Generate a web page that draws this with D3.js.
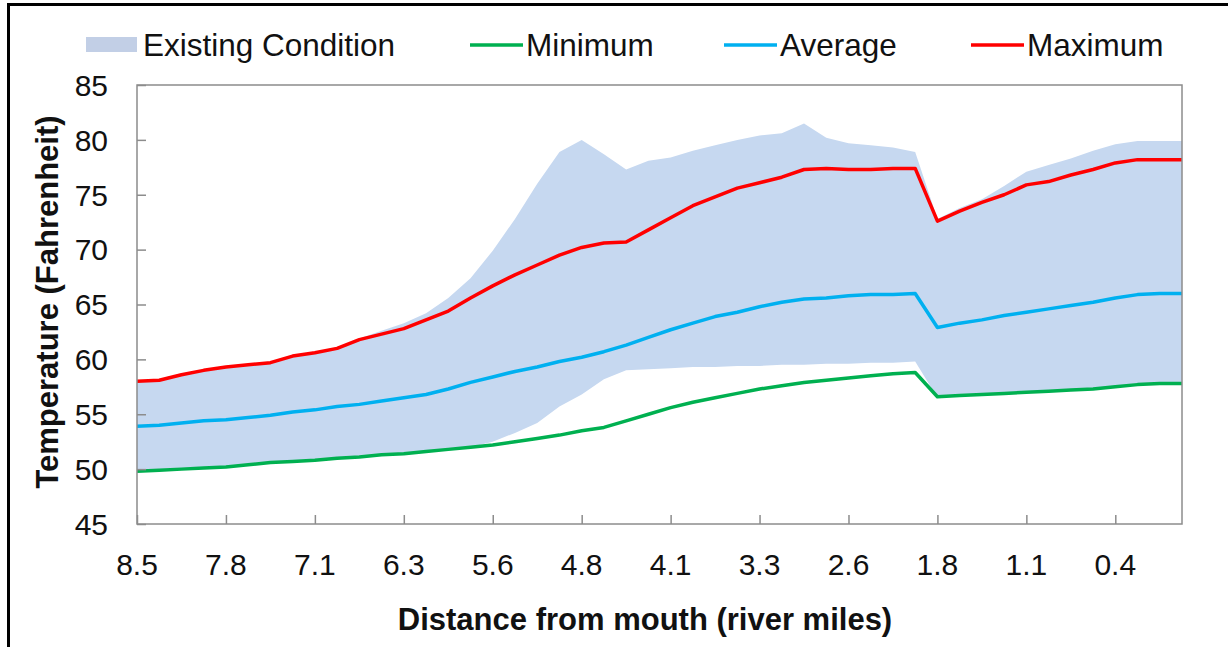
<!DOCTYPE html>
<html>
<head>
<meta charset="utf-8">
<script src="https://cdn.jsdelivr.net/npm/d3@7"></script>
<style>
  body { margin: 0; background: #fff; }
  svg { display: block; font-family: "Liberation Sans", Arial, sans-serif; }
</style>
</head>
<body>
<svg id="chart" width="1228" height="647"></svg>
<script>
// river-mile tick labels, one every 4 stations
var tickLabels = ["8.5", "7.8", "7.1", "6.3", "5.6", "4.8", "4.1", "3.3", "2.6", "1.8", "1.1", "0.4"];
var stations = d3.range(48);

var maxTemp = [58.0, 58.1, 58.6, 59.0, 59.3, 59.5, 59.7, 60.3, 60.6, 61.0, 61.8, 62.3,
               62.8, 63.6, 64.4, 65.6, 66.7, 67.7, 68.6, 69.5, 70.2, 70.6, 70.7, 71.8,
               72.9, 74.0, 74.8, 75.6, 76.1, 76.6, 77.3, 77.4, 77.3, 77.3, 77.4, 77.4,
               72.6, 73.5, 74.3, 75.0, 75.9, 76.2, 76.8, 77.3, 77.9, 78.2, 78.2, 78.2];
var avgTemp = [53.9, 54.0, 54.2, 54.4, 54.5, 54.7, 54.9, 55.2, 55.4, 55.7, 55.9, 56.2,
               56.5, 56.8, 57.3, 57.9, 58.4, 58.9, 59.3, 59.8, 60.2, 60.7, 61.3, 62.0,
               62.7, 63.3, 63.9, 64.3, 64.8, 65.2, 65.5, 65.6, 65.8, 65.9, 65.9, 66.0,
               62.9, 63.3, 63.6, 64.0, 64.3, 64.6, 64.9, 65.2, 65.6, 65.9, 66.0, 66.0];
var minTemp = [49.8, 49.9, 50.0, 50.1, 50.2, 50.4, 50.6, 50.7, 50.8, 51.0, 51.1, 51.3,
               51.4, 51.6, 51.8, 52.0, 52.2, 52.5, 52.8, 53.1, 53.5, 53.8, 54.4, 55.0,
               55.6, 56.1, 56.5, 56.9, 57.3, 57.6, 57.9, 58.1, 58.3, 58.5, 58.7, 58.8,
               56.6, 56.7, 56.8, 56.9, 57.0, 57.1, 57.2, 57.3, 57.5, 57.7, 57.8, 57.8];
// existing condition range (upper / lower edge of band)
var existHigh = [58.1, 58.2, 58.7, 59.1, 59.4, 59.6, 59.8, 60.4, 60.7, 61.1, 61.9, 62.6,
                 63.3, 64.2, 65.6, 67.4, 69.9, 72.8, 76.0, 78.9, 80.0, 78.7, 77.3, 78.1,
                 78.4, 79.0, 79.5, 80.0, 80.4, 80.6, 81.5, 80.2, 79.7, 79.5, 79.3, 78.9,
                 72.8, 73.8, 74.6, 75.8, 77.1, 77.7, 78.3, 79.0, 79.6, 79.9, 79.9, 79.9];
var existLow = [49.8, 49.9, 50.0, 50.1, 50.2, 50.4, 50.6, 50.7, 50.8, 51.0, 51.1, 51.3,
                51.4, 51.6, 51.8, 52.0, 52.5, 53.3, 54.2, 55.7, 56.8, 58.2, 59.0, 59.1,
                59.2, 59.3, 59.3, 59.4, 59.4, 59.5, 59.5, 59.6, 59.6, 59.7, 59.7, 59.8,
                56.5, 56.7, 56.8, 56.9, 57.0, 57.1, 57.2, 57.3, 57.5, 57.7, 57.8, 57.8];
var yTicks = [45, 50, 55, 60, 65, 70, 75, 80, 85];

var svg = d3.select("#chart");
var plotL = 137, plotR = 1182, plotT = 85, plotB = 524;

var x = d3.scaleLinear().domain([0, 47]).range([plotL, plotR]);
var y = d3.scaleLinear().domain([45, 85]).range([plotB, plotT]);

// outer frame (top + left edges visible)
svg.append("path")
    .attr("d", "M8.5,647 L8.5,4.5 L1228,4.5")
    .attr("fill", "none").attr("stroke", "#000").attr("stroke-width", 3);

var band = d3.area()
    .x(function(d) { return x(d); })
    .y0(function(d) { return y(existLow[d]); })
    .y1(function(d) { return y(existHigh[d]); });

svg.append("path")
    .datum(stations)
    .attr("d", band)
    .attr("fill", "#c6d8f0");

var series = [
  { name: "Minimum", values: minTemp, color: "#00b050" },
  { name: "Average", values: avgTemp, color: "#00b0f0" },
  { name: "Maximum", values: maxTemp, color: "#ff0000" }
];

series.forEach(function(s) {
  var line = d3.line()
      .x(function(d) { return x(d); })
      .y(function(d) { return y(s.values[d]); });
  svg.append("path")
      .datum(stations)
      .attr("d", line)
      .attr("fill", "none")
      .attr("stroke", s.color)
      .attr("stroke-width", 3.5)
      .attr("stroke-linejoin", "round");
});

// plot box
svg.append("rect")
    .attr("x", plotL).attr("y", plotT)
    .attr("width", plotR - plotL).attr("height", plotB - plotT)
    .attr("fill", "none").attr("stroke", "#8c8c8c").attr("stroke-width", 1.5);

// y axis: inward ticks
var yAxis = svg.append("g")
    .attr("transform", "translate(" + plotL + ",0)")
    .call(d3.axisRight(y).tickValues(yTicks).tickSize(9).tickFormat(""));
yAxis.select(".domain").remove();
yAxis.selectAll("line").attr("stroke", "#8c8c8c").attr("stroke-width", 1.5);

svg.append("g").selectAll("text")
    .data(yTicks)
    .enter().append("text")
    .attr("x", 108)
    .attr("y", function(d) { return y(d); })
    .attr("dy", "0.36em")
    .attr("text-anchor", "end")
    .attr("font-size", 30)
    .attr("fill", "#111")
    .text(function(d) { return d; });

// x axis: inward ticks every 4 stations
var xTickPos = tickLabels.map(function(l, i) { return i * 4; });
var xAxis = svg.append("g")
    .attr("transform", "translate(0," + plotB + ")")
    .call(d3.axisTop(x).tickValues(xTickPos).tickSize(9).tickFormat(""));
xAxis.select(".domain").remove();
xAxis.selectAll("line").attr("stroke", "#8c8c8c").attr("stroke-width", 1.5);

svg.append("g").selectAll("text")
    .data(tickLabels)
    .enter().append("text")
    .attr("x", function(d, i) { return x(i * 4); })
    .attr("y", 575)
    .attr("text-anchor", "middle")
    .attr("font-size", 30)
    .attr("fill", "#111")
    .text(function(d) { return d; });

svg.append("text")
    .attr("x", 645).attr("y", 630)
    .attr("text-anchor", "middle")
    .attr("font-size", 31).attr("font-weight", "bold")
    .attr("fill", "#111")
    .text("Distance from mouth (river miles)");

svg.append("text")
    .attr("transform", "translate(58,302) rotate(-90)")
    .attr("text-anchor", "middle")
    .attr("font-size", 31).attr("font-weight", "bold")
    .attr("fill", "#111")
    .text("Temperature (Fahrenheit)");

// legend
var legendY = 45;
svg.append("rect")
    .attr("x", 86).attr("y", legendY - 8)
    .attr("width", 51).attr("height", 15)
    .attr("fill", "#c2cfe6");
svg.append("text")
    .attr("x", 143).attr("y", legendY + 11)
    .attr("font-size", 31.5).attr("fill", "#111")
    .text("Existing Condition");

var legendPos = [470, 724, 971];
series.forEach(function(s, i) {
  svg.append("line")
      .attr("x1", legendPos[i]).attr("x2", legendPos[i] + 53)
      .attr("y1", legendY).attr("y2", legendY)
      .attr("stroke", s.color).attr("stroke-width", 3.5);
  svg.append("text")
      .attr("x", legendPos[i] + 56).attr("y", legendY + 11)
      .attr("font-size", 31.5).attr("fill", "#111")
      .text(s.name);
});
</script>
</body>
</html>
